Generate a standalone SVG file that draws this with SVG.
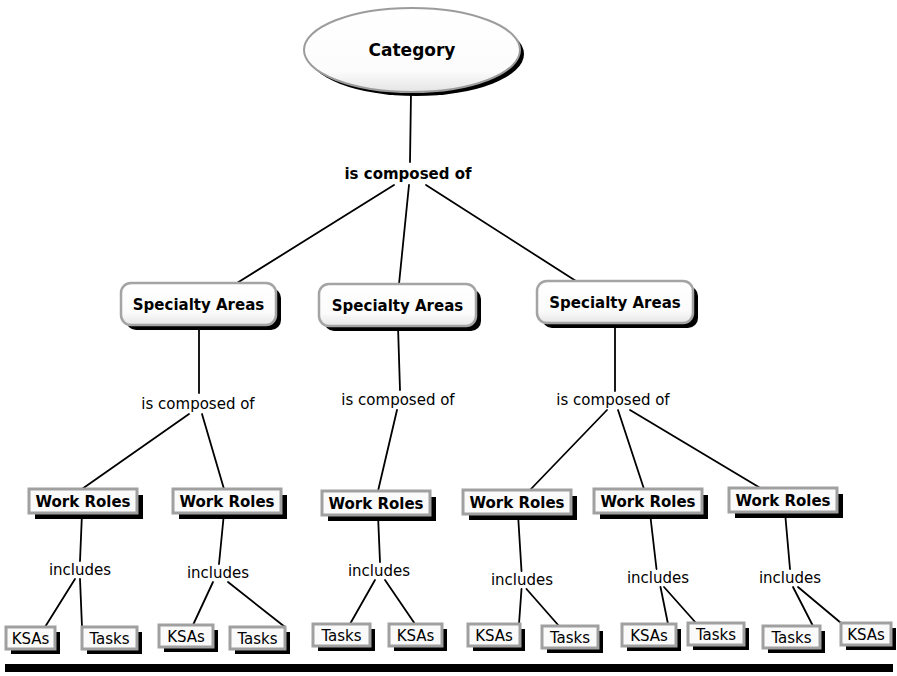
<svg xmlns="http://www.w3.org/2000/svg" width="897" height="676" viewBox="0 0 897 676">
  <defs>
    <linearGradient id="saFill" x1="0" y1="0" x2="0" y2="1">
      <stop offset="0" stop-color="#ffffff"/>
      <stop offset="0.7" stop-color="#fbfbfb"/>
      <stop offset="1" stop-color="#e6e6e6"/>
    </linearGradient>
    <linearGradient id="ellFill" x1="0" y1="0" x2="0" y2="1">
      <stop offset="0" stop-color="#ffffff"/>
      <stop offset="0.75" stop-color="#fcfcfc"/>
      <stop offset="1" stop-color="#e4e4e4"/>
    </linearGradient>
    <style>
      .shadow { fill: #000; }
      .ell { fill: url(#ellFill); stroke: #9c9c9c; stroke-width: 2; }
      .sa { fill: url(#saFill); stroke: #a4a4a4; stroke-width: 2.5; }
      .box { fill: #fafafa; stroke: #a0a0a0; stroke-width: 3; }
      .link { stroke: #000; stroke-width: 1.8; fill: none; stroke-linecap: round; }
      text { font-family: "DejaVu Sans", Verdana, sans-serif; fill: #000; text-anchor: middle; }
      .b17 { font-weight: bold; font-size: 17px; }
      .b15 { font-weight: bold; font-size: 15px; }
      .r15 { font-size: 15px; }
    </style>
  </defs>

  <rect width="897" height="676" fill="#fff"/>

  <!-- connectors -->
  <g id="connectors">
    <line class="link" x1="411" y1="93" x2="410" y2="162"/>
    <line class="link" x1="394" y1="185" x2="237" y2="283"/>
    <line class="link" x1="409" y1="185" x2="399" y2="284"/>
    <line class="link" x1="426" y1="185" x2="576" y2="281"/>

    <line class="link" x1="199" y1="325" x2="199" y2="393"/>
    <line class="link" x1="398" y1="326" x2="400" y2="390"/>
    <line class="link" x1="615" y1="323" x2="615" y2="391"/>

    <line class="link" x1="189" y1="414" x2="82" y2="489"/>
    <line class="link" x1="202" y1="414" x2="224" y2="489"/>
    <line class="link" x1="397" y1="410" x2="378" y2="491"/>
    <line class="link" x1="607" y1="410" x2="530" y2="490"/>
    <line class="link" x1="618" y1="410" x2="644" y2="489"/>
    <line class="link" x1="630" y1="410" x2="762" y2="489"/>

    <line class="link" x1="82" y1="513" x2="80" y2="561"/>
    <line class="link" x1="224" y1="513" x2="219" y2="564"/>
    <line class="link" x1="378" y1="515" x2="380" y2="562"/>
    <line class="link" x1="518" y1="514" x2="521.5" y2="571"/>
    <line class="link" x1="650" y1="513" x2="656.5" y2="569"/>
    <line class="link" x1="785" y1="512" x2="790" y2="569"/>

    <line class="link" x1="75" y1="579" x2="45" y2="627"/>
    <line class="link" x1="80" y1="579" x2="82" y2="627"/>
    <line class="link" x1="213" y1="582" x2="193" y2="625"/>
    <line class="link" x1="228" y1="582" x2="285" y2="627"/>
    <line class="link" x1="375" y1="580" x2="350" y2="624"/>
    <line class="link" x1="385" y1="580" x2="415" y2="624"/>
    <line class="link" x1="521.5" y1="589" x2="519" y2="624"/>
    <line class="link" x1="526.5" y1="589" x2="559" y2="626"/>
    <line class="link" x1="660.5" y1="587" x2="668" y2="624"/>
    <line class="link" x1="664" y1="587" x2="696" y2="623"/>
    <line class="link" x1="793" y1="587" x2="813" y2="626"/>
    <line class="link" x1="798" y1="587" x2="841" y2="623"/>
  </g>

  <!-- root concept -->
  <g id="category">
    <ellipse class="shadow" cx="416" cy="54" rx="108" ry="42"/>
    <ellipse class="ell" cx="412" cy="50" rx="108" ry="42"/>
    <text class="b17" x="412" y="56">Category</text>
  </g>

  <!-- linking phrases -->
  <g id="label-top"><text class="b15" x="408" y="178.5">is composed of</text></g>
  <g id="label-sa1"><text class="r15" x="198" y="408.5">is composed of</text></g>
  <g id="label-sa2"><text class="r15" x="398" y="404.5">is composed of</text></g>
  <g id="label-sa3"><text class="r15" x="613" y="404.5">is composed of</text></g>
  <g id="label-wr1"><text class="r15" x="80" y="575">includes</text></g>
  <g id="label-wr2"><text class="r15" x="218" y="578">includes</text></g>
  <g id="label-wr3"><text class="r15" x="379" y="576">includes</text></g>
  <g id="label-wr4"><text class="r15" x="522" y="585">includes</text></g>
  <g id="label-wr5"><text class="r15" x="658" y="583">includes</text></g>
  <g id="label-wr6"><text class="r15" x="790" y="583">includes</text></g>

  <!-- specialty areas -->
  <g id="sa1">
    <rect class="shadow" x="126" y="288" width="155" height="42" rx="10"/>
    <rect class="sa" x="121" y="283" width="155" height="42" rx="10"/>
    <text class="b15" x="198.5" y="309.5">Specialty Areas</text>
  </g>
  <g id="sa2">
    <rect class="shadow" x="324" y="289" width="157" height="42" rx="10"/>
    <rect class="sa" x="319" y="284" width="157" height="42" rx="10"/>
    <text class="b15" x="397.5" y="310.5">Specialty Areas</text>
  </g>
  <g id="sa3">
    <rect class="shadow" x="542" y="286" width="156" height="42" rx="10"/>
    <rect class="sa" x="537" y="281" width="156" height="42" rx="10"/>
    <text class="b15" x="615" y="307.5">Specialty Areas</text>
  </g>

  <!-- work roles -->
  <g id="wr1">
    <rect class="shadow" x="35" y="495" width="108" height="24"/>
    <rect class="box" x="29" y="489" width="108" height="24"/>
    <text class="b15" x="83" y="506.5">Work Roles</text>
  </g>
  <g id="wr2">
    <rect class="shadow" x="179" y="495" width="108" height="24"/>
    <rect class="box" x="173" y="489" width="108" height="24"/>
    <text class="b15" x="227" y="506.5">Work Roles</text>
  </g>
  <g id="wr3">
    <rect class="shadow" x="328" y="497" width="108" height="24"/>
    <rect class="box" x="322" y="491" width="108" height="24"/>
    <text class="b15" x="376" y="508.5">Work Roles</text>
  </g>
  <g id="wr4">
    <rect class="shadow" x="469" y="496" width="108" height="24"/>
    <rect class="box" x="463" y="490" width="108" height="24"/>
    <text class="b15" x="517" y="507.5">Work Roles</text>
  </g>
  <g id="wr5">
    <rect class="shadow" x="600" y="495" width="108" height="24"/>
    <rect class="box" x="594" y="489" width="108" height="24"/>
    <text class="b15" x="648" y="506.5">Work Roles</text>
  </g>
  <g id="wr6">
    <rect class="shadow" x="735" y="494" width="108" height="24"/>
    <rect class="box" x="729" y="488" width="108" height="24"/>
    <text class="b15" x="783" y="505.5">Work Roles</text>
  </g>

  <!-- KSAs and tasks -->
  <g id="ksas1">
    <rect class="shadow" x="11" y="632" width="49" height="22"/>
    <rect class="box" x="6" y="627" width="49" height="22"/>
    <text class="r15" x="30.5" y="643.5">KSAs</text>
  </g>
  <g id="tasks1">
    <rect class="shadow" x="87" y="632" width="55" height="22"/>
    <rect class="box" x="82" y="627" width="55" height="22"/>
    <text class="r15" x="109.5" y="643.5">Tasks</text>
  </g>
  <g id="ksas2">
    <rect class="shadow" x="164" y="630" width="54" height="22"/>
    <rect class="box" x="159" y="625" width="54" height="22"/>
    <text class="r15" x="186" y="641.5">KSAs</text>
  </g>
  <g id="tasks2">
    <rect class="shadow" x="235" y="632" width="55" height="22"/>
    <rect class="box" x="230" y="627" width="55" height="22"/>
    <text class="r15" x="257.5" y="643.5">Tasks</text>
  </g>
  <g id="tasks3">
    <rect class="shadow" x="318" y="629" width="57" height="22"/>
    <rect class="box" x="313" y="624" width="57" height="22"/>
    <text class="r15" x="341.5" y="640.5">Tasks</text>
  </g>
  <g id="ksas3">
    <rect class="shadow" x="394" y="629" width="53" height="22"/>
    <rect class="box" x="389" y="624" width="53" height="22"/>
    <text class="r15" x="415.5" y="640.5">KSAs</text>
  </g>
  <g id="ksas4">
    <rect class="shadow" x="473" y="629" width="52" height="22"/>
    <rect class="box" x="468" y="624" width="52" height="22"/>
    <text class="r15" x="494" y="640.5">KSAs</text>
  </g>
  <g id="tasks4">
    <rect class="shadow" x="547" y="631" width="56" height="22"/>
    <rect class="box" x="542" y="626" width="56" height="22"/>
    <text class="r15" x="570" y="642.5">Tasks</text>
  </g>
  <g id="ksas5">
    <rect class="shadow" x="627" y="629" width="54" height="22"/>
    <rect class="box" x="622" y="624" width="54" height="22"/>
    <text class="r15" x="649" y="640.5">KSAs</text>
  </g>
  <g id="tasks5">
    <rect class="shadow" x="693" y="628" width="56" height="22"/>
    <rect class="box" x="688" y="623" width="56" height="22"/>
    <text class="r15" x="716" y="639.5">Tasks</text>
  </g>
  <g id="tasks6">
    <rect class="shadow" x="768" y="631" width="57" height="22"/>
    <rect class="box" x="763" y="626" width="57" height="22"/>
    <text class="r15" x="791.5" y="642.5">Tasks</text>
  </g>
  <g id="ksas6">
    <rect class="shadow" x="846" y="628" width="50" height="22"/>
    <rect class="box" x="841" y="623" width="50" height="22"/>
    <text class="r15" x="866" y="639.5">KSAs</text>
  </g>

  <!-- bottom rule -->
  <rect id="bottom-rule" x="5" y="664" width="888" height="8" fill="#000"/>
</svg>
